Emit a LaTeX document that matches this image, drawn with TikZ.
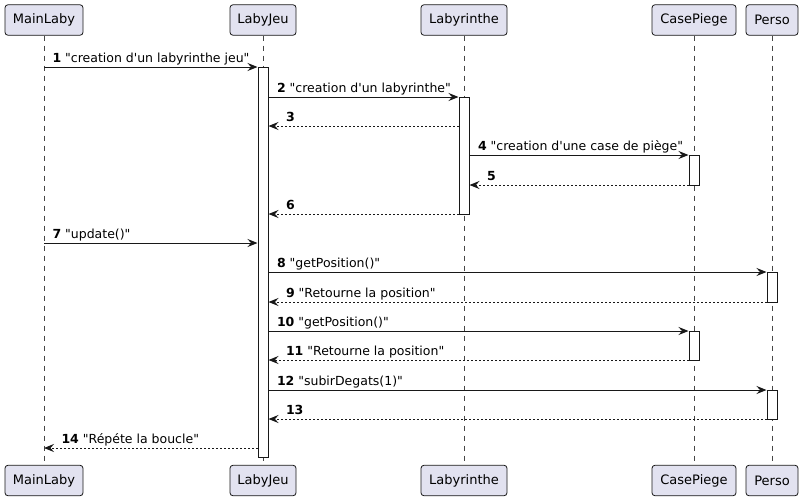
\documentclass[tikz,border=0pt]{standalone}
\usepackage{fontspec}
\setmainfont{DejaVu Sans}[Ligatures=TeXOff]
\usetikzlibrary{arrows.meta}
\definecolor{partfill}{HTML}{E2E2F0}
\definecolor{ink}{HTML}{181818}
\begin{document}
\begin{tikzpicture}[x=1pt,y=-1pt,
  part/.style={draw=ink, line width=0.8pt, fill=partfill, rounded corners=3pt,
    minimum height=30.5pt, inner sep=0pt, font=\fontsize{13}{15}\selectfont, text=black},
  lifeline/.style={draw=ink!80, line width=0.6pt, dash pattern=on 5pt off 5pt},
  bar/.style={draw=ink, line width=1pt, fill=white, minimum width=10pt, inner sep=0pt},
  msg/.style={draw=ink, line width=1pt, -{Stealth[length=10pt,width=8pt,inset=3.5pt]}},
  ret/.style={msg, dash pattern=on 2pt off 2pt},
  lbl/.style={font=\fontsize{12.5}{14}\selectfont, inner sep=0pt, text=black},
  lblr/.style={lbl, pos=0, anchor=base west, xshift=8pt, yshift=5pt},
  lbll/.style={lbl, pos=1, anchor=base west, xshift=17pt, yshift=5pt}]
\useasboundingbox (0,0) rectangle (803,501);
% participants
\node[part, minimum width=78pt] (mlT) at (44,20) {MainLaby};
\node[part, minimum width=66pt] (ljT) at (263,20) {LabyJeu};
\node[part, minimum width=86pt] (lbT) at (464,20) {Labyrinthe};
\node[part, minimum width=84pt] (cpT) at (694,20) {CasePiege};
\node[part, minimum width=52pt] (peT) at (772,20) {Perso};
\node[part, minimum width=78pt] (mlB) at (44,480.5) {MainLaby};
\node[part, minimum width=66pt] (ljB) at (263,480.5) {LabyJeu};
\node[part, minimum width=86pt] (lbB) at (464,480.5) {Labyrinthe};
\node[part, minimum width=84pt] (cpB) at (694,480.5) {CasePiege};
\node[part, minimum width=52pt] (peB) at (772,480.5) {Perso};
% lifelines
\draw[lifeline] (mlT.south) -- (mlB.north);
\draw[lifeline] (ljT.south) -- (ljB.north);
\draw[lifeline] (lbT.south) -- (lbB.north);
\draw[lifeline] (cpT.south) -- (cpB.north);
\draw[lifeline] (peT.south) -- (peB.north);
% activation bars
\node[bar, minimum height=390pt] (ljBar) at (263,262) {};
\node[bar, minimum height=117pt] (lbBar) at (464,155.5) {};
\node[bar, minimum height=30pt] (cpBarA) at (694,170) {};
\node[bar, minimum height=29pt] (cpBarB) at (694,345.5) {};
\node[bar, minimum height=30pt] (peBarA) at (772,287) {};
\node[bar, minimum height=29pt] (peBarB) at (772,404.5) {};
% rows
\coordinate (r1) at (0,67);
\coordinate (r2) at (0,97);
\coordinate (r3) at (0,126);
\coordinate (r4) at (0,155);
\coordinate (r5) at (0,185);
\coordinate (r6) at (0,214);
\coordinate (r7) at (0,243);
\coordinate (r8) at (0,272);
\coordinate (r9) at (0,302);
\coordinate (r10) at (0,331);
\coordinate (r11) at (0,360);
\coordinate (r12) at (0,390);
\coordinate (r13) at (0,419);
\coordinate (r14) at (0,448);
% messages
\draw[msg] (mlT |- r1) -- (ljBar.west |- r1) node[lblr] {\textbf{1} "creation d'un labyrinthe jeu"};
\draw[msg] (ljBar.east |- r2) -- (lbBar.west |- r2) node[lblr] {\textbf{2} "creation d'un labyrinthe"};
\draw[ret] (lbBar.west |- r3) -- (ljBar.east |- r3) node[lbll] {\textbf{3}};
\draw[msg] (lbBar.east |- r4) -- (cpBarA.west |- r4) node[lblr] {\textbf{4} "creation d'une case de piège"};
\draw[ret] (cpBarA.west |- r5) -- (lbBar.east |- r5) node[lbll] {\textbf{5}};
\draw[ret] (lbBar.west |- r6) -- (ljBar.east |- r6) node[lbll] {\textbf{6}};
\draw[msg] (mlT |- r7) -- (ljBar.west |- r7) node[lblr] {\textbf{7} "update()"};
\draw[msg] (ljBar.east |- r8) -- (peBarA.west |- r8) node[lblr] {\textbf{8} "getPosition()"};
\draw[ret] (peBarA.west |- r9) -- (ljBar.east |- r9) node[lbll] {\textbf{9} "Retourne la position"};
\draw[msg] (ljBar.east |- r10) -- (cpBarB.west |- r10) node[lblr] {\textbf{10} "getPosition()"};
\draw[ret] (cpBarB.west |- r11) -- (ljBar.east |- r11) node[lbll] {\textbf{11} "Retourne la position"};
\draw[msg] (ljBar.east |- r12) -- (peBarB.west |- r12) node[lblr] {\textbf{12} "subirDegats(1)"};
\draw[ret] (peBarB.west |- r13) -- (ljBar.east |- r13) node[lbll] {\textbf{13}};
\draw[ret] (ljBar.west |- r14) -- (mlT |- r14) node[lbll] {\textbf{14} "Répéte la boucle"};
\end{tikzpicture}
\end{document}
